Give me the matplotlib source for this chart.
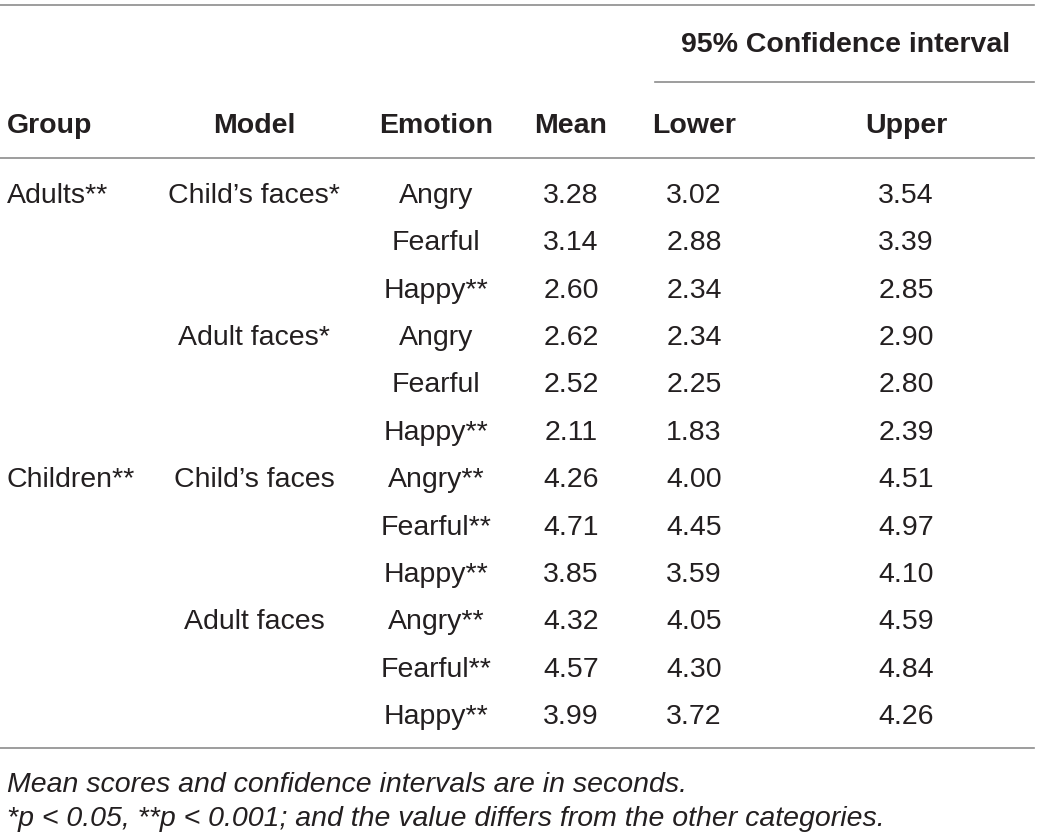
import matplotlib.pyplot as plt

# table data
groups = ["Adults**", "", "", "", "", "", "Children**", "", "", "", "", ""]
models = ["Child\u2019s faces*", "", "", "Adult faces*", "", "",
          "Child\u2019s faces", "", "", "Adult faces", "", ""]
emotions = ["Angry", "Fearful", "Happy**", "Angry", "Fearful", "Happy**",
            "Angry**", "Fearful**", "Happy**", "Angry**", "Fearful**", "Happy**"]
means = [3.28, 3.14, 2.60, 2.62, 2.52, 2.11, 4.26, 4.71, 3.85, 4.32, 4.57, 3.99]
lowers = [3.02, 2.88, 2.34, 2.34, 2.25, 1.83, 4.00, 4.45, 3.59, 4.05, 4.30, 3.72]
uppers = [3.54, 3.39, 2.85, 2.90, 2.80, 2.39, 4.51, 4.97, 4.10, 4.59, 4.84, 4.26]
headers = ["Group", "Model", "Emotion", "Mean", "Lower", "Upper"]
notes = ["Mean scores and confidence intervals are in seconds.",
         "*p < 0.05, **p < 0.001; and the value differs from the other categories."]

plt.rcParams['font.family'] = ['Liberation Sans', 'DejaVu Sans']
txt = '#231f20'
rule = '#8c8c8c'
fs = 20.5

fig = plt.figure(figsize=(10.4, 8.36), dpi=100)
ax = fig.add_axes([0, 0, 1, 1])
ax.set_xlim(0, 1040)
ax.set_ylim(836, 0)
ax.axis('off')

# column x positions and alignment
col_x = [7, 254, 436, 571, 694, 906]
col_ha = ['left', 'center', 'center', 'center', 'center', 'center']

# rules
ax.plot([0, 1034], [5, 5], color=rule, lw=1.2)
ax.plot([655, 1034], [82, 82], color=rule, lw=1.2)
ax.plot([0, 1034], [158, 158], color=rule, lw=1.2)
ax.plot([0, 1034], [748, 748], color=rule, lw=1.2)

ax.text(846, 42, "95% Confidence interval", ha='center', va='center_baseline',
        fontsize=fs, fontweight='bold', color=txt)
for x, ha, h in zip(col_x, col_ha, headers):
    ax.text(x, 123, h, ha=ha, va='center_baseline', fontsize=fs,
            fontweight='bold', color=txt)

y0, dy = 193, 47.36
for i in range(len(emotions)):
    y = y0 + i * dy
    cells = [groups[i], models[i], emotions[i],
             f"{means[i]:.2f}", f"{lowers[i]:.2f}", f"{uppers[i]:.2f}"]
    for x, ha, c in zip(col_x, col_ha, cells):
        if c:
            ax.text(x, y, c, ha=ha, va='center_baseline', fontsize=fs, color=txt)

for k, n in enumerate(notes):
    ax.text(7, 782 + k * 34, n, ha='left', va='center_baseline', fontsize=fs,
            style='italic', color=txt)

plt.savefig("out.png", dpi=100)
plt.close()
